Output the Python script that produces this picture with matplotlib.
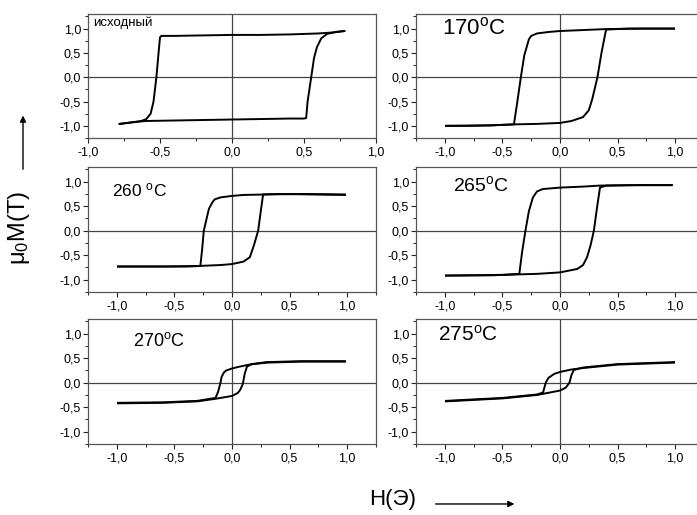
import numpy as np
import matplotlib
matplotlib.use('Agg')
import matplotlib.pyplot as plt
from matplotlib.ticker import MultipleLocator, FuncFormatter

plt.rcParams['font.family'] = ['Liberation Sans', 'DejaVu Sans']
plt.rcParams['mathtext.default'] = 'regular'

# Hysteresis loops: descending branch (from +H) and ascending branch (from -H)
# initial state
h0_down = [0.78, 0.70, 0.60, 0.40, 0.20, 0.00, -0.20, -0.40, -0.49, -0.50, -0.51, -0.525, -0.545, -0.565, -0.595, -0.63, -0.70, -0.78]
m0_down = [0.95, 0.92, 0.90, 0.88, 0.87, 0.87, 0.86, 0.85, 0.85, 0.82, 0.50, 0.00, -0.50, -0.75, -0.86, -0.90, -0.93, -0.96]
h0_up = [-0.78, -0.70, -0.60, -0.40, -0.20, 0.00, 0.20, 0.40, 0.50, 0.515, 0.525, 0.55, 0.57, 0.59, 0.62, 0.66, 0.72, 0.78]
m0_up = [-0.96, -0.93, -0.90, -0.89, -0.88, -0.87, -0.86, -0.85, -0.85, -0.84, -0.50, 0.00, 0.40, 0.62, 0.80, 0.89, 0.93, 0.95]

# 170 C
h1_down = [0.99, 0.70, 0.40, 0.20, 0.00, -0.10, -0.20, -0.25, -0.27, -0.31, -0.34, -0.37, -0.40, -0.60, -0.80, -0.99]
m1_down = [1.00, 1.00, 0.99, 0.97, 0.95, 0.93, 0.90, 0.85, 0.78, 0.45, 0.00, -0.50, -0.97, -0.99, -1.00, -1.00]
h1_up = [-0.99, -0.60, -0.40, -0.20, 0.00, 0.10, 0.20, 0.25, 0.28, 0.325, 0.36, 0.40, 0.60, 0.99]
m1_up = [-1.00, -0.99, -0.97, -0.96, -0.94, -0.90, -0.82, -0.68, -0.45, 0.00, 0.50, 0.98, 1.00, 1.00]

# 260 C
h2_down = [0.98, 0.60, 0.30, 0.10, 0.00, -0.10, -0.15, -0.17, -0.20, -0.245, -0.26, -0.275, -0.40, -0.70, -0.99]
m2_down = [0.74, 0.75, 0.74, 0.73, 0.71, 0.68, 0.64, 0.58, 0.45, 0.00, -0.40, -0.72, -0.73, -0.73, -0.73]
h2_up = [-0.99, -0.60, -0.30, -0.10, 0.00, 0.10, 0.155, 0.19, 0.227, 0.25, 0.27, 0.40, 0.70, 0.98]
m2_up = [-0.73, -0.73, -0.72, -0.70, -0.68, -0.63, -0.54, -0.30, 0.00, 0.40, 0.74, 0.75, 0.74, 0.73]

# 265 C
h3_down = [0.97, 0.60, 0.34, 0.20, 0.00, -0.15, -0.20, -0.235, -0.27, -0.30, -0.33, -0.353, -0.50, -0.99]
m3_down = [0.93, 0.93, 0.92, 0.90, 0.88, 0.85, 0.80, 0.68, 0.40, 0.00, -0.45, -0.88, -0.90, -0.915]
h3_up = [-0.99, -0.60, -0.35, -0.20, 0.00, 0.15, 0.20, 0.235, 0.265, 0.294, 0.32, 0.347, 0.40, 0.70, 0.97]
m3_up = [-0.915, -0.91, -0.89, -0.88, -0.85, -0.78, -0.70, -0.54, -0.30, 0.00, 0.45, 0.88, 0.92, 0.93, 0.93]

# 270 C
h4_down = [0.98, 0.60, 0.30, 0.15, 0.05, 0.00, -0.05, -0.07, -0.09, -0.10, -0.12, -0.143, -0.30, -0.60, -0.99]
m4_down = [0.43, 0.43, 0.41, 0.37, 0.32, 0.29, 0.25, 0.21, 0.12, 0.00, -0.18, -0.31, -0.37, -0.40, -0.41]
h4_up = [-0.99, -0.60, -0.30, -0.15, 0.00, 0.05, 0.07, 0.09, 0.096, 0.11, 0.13, 0.17, 0.30, 0.60, 0.98]
m4_up = [-0.42, -0.41, -0.38, -0.33, -0.27, -0.21, -0.15, -0.05, 0.00, 0.18, 0.33, 0.38, 0.42, 0.44, 0.44]

# 275 C
h5_down = [0.99, 0.50, 0.20, 0.10, 0.00, -0.05, -0.10, -0.124, -0.147, -0.20, -0.50, -0.99]
m5_down = [0.41, 0.37, 0.30, 0.27, 0.22, 0.18, 0.10, 0.00, -0.20, -0.24, -0.31, -0.37]
h5_up = [-0.99, -0.50, -0.20, 0.00, 0.05, 0.082, 0.10, 0.12, 0.20, 0.50, 0.99]
m5_up = [-0.38, -0.32, -0.25, -0.16, -0.10, 0.00, 0.16, 0.26, 0.31, 0.38, 0.42]

labels = ['исходный', '170$^{o}$C', '260 $^{o}$C', '265$^{o}$C', '270$^{o}$C', '275$^{o}$C']
loops = [(h0_down, m0_down, h0_up, m0_up), (h1_down, m1_down, h1_up, m1_up),
         (h2_down, m2_down, h2_up, m2_up), (h3_down, m3_down, h3_up, m3_up),
         (h4_down, m4_down, h4_up, m4_up), (h5_down, m5_down, h5_up, m5_up)]

# label position (data coords) and font size per panel
label_pos = [(-0.965, 1.05, 9.5), (-1.02, 0.89, 16), (-1.04, 0.71, 12.5),
             (-0.93, 0.82, 14), (-0.86, 0.755, 13), (-1.06, 0.86, 15)]

fig = plt.figure(figsize=(6.97, 5.15), dpi=100)

W, H = 697.0, 515.0
cols = [88, 416]
rows = [(14, 138), (167, 292), (319, 444)]
fmt = FuncFormatter(lambda v, p: ('%.1f' % v).replace('.', ','))

for i in range(6):
    r, c = divmod(i, 2)
    top, bot = rows[r]
    ax = fig.add_axes([cols[c] / W, 1 - bot / H, 288 / W, (bot - top) / H])
    hd, md, hu, mu = loops[i]
    ax.axhline(0, color='#444444', lw=0.9, zorder=1)
    ax.axvline(0, color='#444444', lw=0.9, zorder=1)
    ax.plot(hd, md, color='black', lw=1.4, zorder=3)
    ax.plot(hu, mu, color='black', lw=1.4, zorder=3)
    if i == 0:
        ax.set_xlim(-1.0, 1.0)
    else:
        ax.set_xlim(-1.25, 1.25)
    ax.set_ylim(-1.25, 1.3)
    ax.xaxis.set_major_locator(MultipleLocator(0.5))
    ax.xaxis.set_minor_locator(MultipleLocator(0.25))
    ax.yaxis.set_major_locator(MultipleLocator(0.5))
    ax.yaxis.set_minor_locator(MultipleLocator(0.25))
    ax.xaxis.set_major_formatter(fmt)
    ax.yaxis.set_major_formatter(fmt)
    ax.tick_params(which='major', direction='out', length=3.5, width=0.8, labelsize=9, pad=2.5, colors='#222222', labelcolor='black')
    ax.tick_params(which='minor', direction='out', length=2, width=0.7, colors='#222222')
    ax.tick_params(axis='y', pad=1.5)
    for s in ax.spines.values():
        s.set_color('#555555')
        s.set_linewidth(0.9)
    lx, ly, fs = label_pos[i]
    ax.text(lx, ly, labels[i], fontsize=fs, ha='left', va='baseline')

fig.text(0.027, 0.557, 'μ$_0$M(T)', rotation=90, fontsize=17, ha='center', va='center')
fig.text(0.564, 0.03, 'H(Э)', fontsize=16, ha='center', va='center')

fig.patches.append(matplotlib.patches.FancyArrowPatch((0.033, 0.666), (0.033, 0.781), transform=fig.transFigure,
                   arrowstyle='-|>', mutation_scale=9, lw=1.0, color='black'))
fig.patches.append(matplotlib.patches.FancyArrowPatch((0.621, 0.0214), (0.742, 0.0214), transform=fig.transFigure,
                   arrowstyle='-|>', mutation_scale=9, lw=1.0, color='black'))

fig.savefig('out.png', dpi=100)
